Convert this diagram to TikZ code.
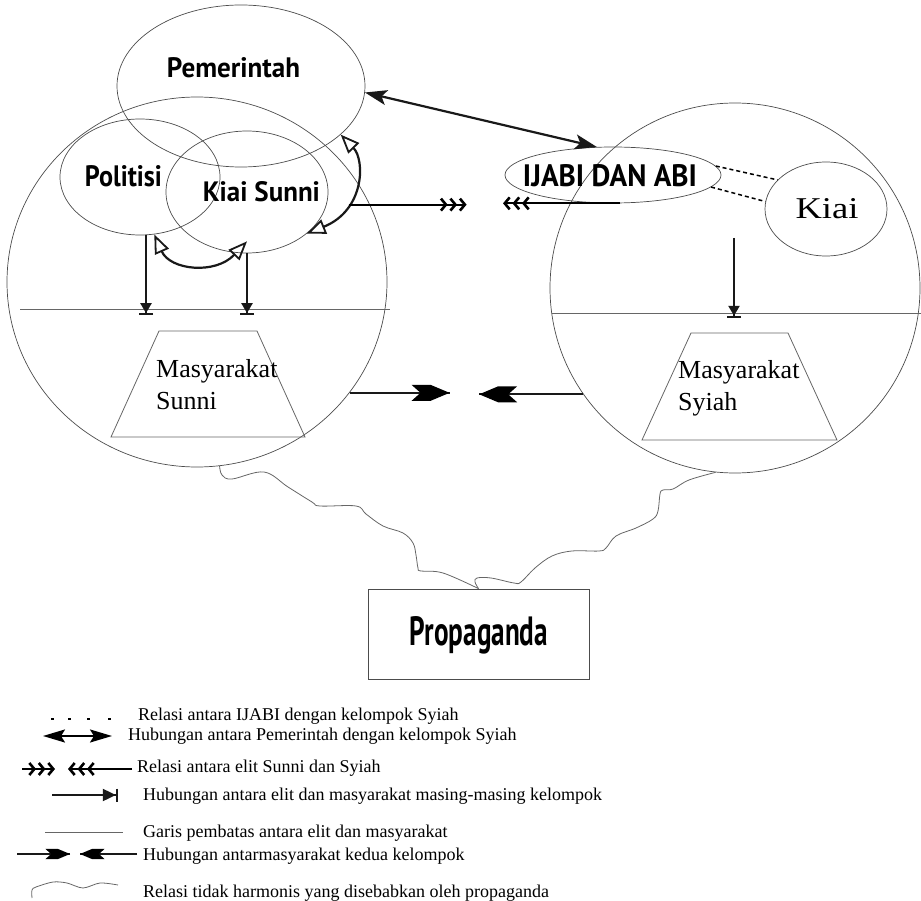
\documentclass[tikz,border=0pt]{standalone}
\usepackage{graphicx}
\usepackage{fontspec}
\setmainfont{Liberation Serif}
\setsansfont{PT Sans}
\usetikzlibrary{arrows.meta}
\usetikzlibrary{decorations.markings}
\usetikzlibrary{shapes.geometric}
\usetikzlibrary{positioning}
\newcommand{\judul}[3]{\resizebox{#1pt}{#2pt}{\sffamily\bfseries #3}}
\tikzset{wadah/.style = {ellipse, draw=black!70, line width=0.7pt, inner sep=0pt},
         garis/.style = {draw=black!60, line width=0.8pt},
         tebal/.style = {line width=2.2pt, draw=black!90},
         duaarah/.style = {tebal, {Stealth[length=22pt,width=15pt,inset=5pt]}-{Stealth[length=22pt,width=15pt,inset=5pt]}},
         kaitan/.style = {tebal, {Triangle[open,length=19pt,width=15pt,line width=1.8pt]}-{Triangle[open,length=19pt,width=15pt,line width=1.8pt]}},
         turun/.style = {tebal, -{Stealth[length=10pt,width=11pt,inset=0pt]Bar[width=14pt,line width=2.2pt]}},
         elit/.style = {line width=1.9pt, -{Straight Barb[length=5pt,width=12pt,line width=2.6pt,sep=1.5pt]Straight Barb[length=5pt,width=12pt,line width=2.6pt,sep=1.5pt]Straight Barb[length=5pt,width=12pt,line width=2.6pt]}},
         putus/.style = {line width=1.5pt, dash pattern=on 4pt off 3pt},
         fletch/.style = {tebal, decoration={markings,
                                             mark=at position 1 with {\fill[scale=#1] (0,0) -- (-19,8) -- (-38,8) -- (-29,0) -- (-38,-8) -- (-19,-8) -- cycle;}},
                          postaction={decorate}},
         fletch/.default = 1,
         ombak/.style = {draw=black!60, line width=0.8pt},
         ket/.style = {anchor=base west, inner sep=0pt, font=\fontsize{18}{20}\selectfont},
         massa/.style = {anchor=base west, inner sep=0pt, align=left, font=\fontsize{26}{32}\selectfont}}
\begin{document}
\begin{tikzpicture}[x=1pt, y=-1pt]
    \useasboundingbox (0,0) rectangle (921,901);

    \node [wadah, minimum width=380pt, minimum height=370pt] (sunni) at (197,282) {};
    \node [wadah, minimum width=370pt, minimum height=370pt] (syiah) at (735,288) {};
    \node [wadah, minimum width=248pt, minimum height=162pt] (pem) at (241,86) {};
    \node [wadah, minimum width=160pt, minimum height=116pt] (pol) at (140,177) {};
    \node [wadah, minimum width=162pt, minimum height=122pt] (ks) at (247,192) {};
    \node [wadah, minimum width=216pt, minimum height=56pt] (ijabi) at (613,175) {};
    \node [wadah, minimum width=122pt, minimum height=94pt] (kiai) at (826,209) {};
    \node [draw=black!70, line width=0.8pt, minimum width=221pt, minimum height=90pt, inner sep=0pt] (prop) at (478.5,634) {};

    \node [anchor=base] (tpem) at (233.5,78) {\judul{133}{20}{Pemerintah}};
    \node [anchor=base] (tpol) at (123.5,187) {\judul{77}{21}{Politisi}};
    \node [anchor=base] (tks) at (261.5,202) {\judul{117}{20}{Kiai Sunni}};
    \node [anchor=base] (tijabi) at (610,187) {\judul{174}{22}{IJABI DAN ABI}};
    \node [anchor=base] (tprop) at (479,645) {\judul{138}{29}{Propaganda}};
    \node [anchor=base] (tkiai) at (827,219) {\resizebox{63pt}{20pt}{Kiai}};

    \draw [garis] (20,309) -- (390,309);
    \draw [garis] (552,313) -- (921,313);
    \draw [garis] (159,331) -- (257,331) -- (305,437) -- (111,437) -- cycle;
    \draw [garis] (691,333) -- (788,333) -- (837,440) -- (642,440) -- cycle;
    \node [massa] (msunni) at (156,409) {Masyarakat\\Sunni};
    \node [massa] (msyiah) at (678,410) {Masyarakat\\Syiah};

    \draw [duaarah] (pem.-3) -- (ijabi.120);
    \draw [kaitan] (pol.-76) .. controls (170,270) and (215,275) .. ([yshift=12pt]ks.south);
    \draw [kaitan] (pem.-26) .. controls (365,160) and (365,210) .. (ks.-35);
    \draw [turun] ([xshift=6pt]pol.south) -- ++(0,80);
    \draw [turun] (ks.south) -- ++(0,62);
    \coordinate (elitS) at (734,238);
    \draw [turun] (elitS) -- ++(0,80);
    \draw [elit] ([xshift=22pt]ks.-9) -- ++(118,0);
    \draw [elit] ([xshift=7pt]ijabi.south) -- ++(-117,0);
    \draw [putus] (ijabi.5) -- (kiai.149);
    \draw [putus] (ijabi.-7) -- (kiai.173);
    \draw [fletch] (sunni.-36) -- ++(100,0);
    \draw [fletch] (syiah.-145) -- ++(-104,0);

    \draw [ombak] plot [smooth, tension=0.6] coordinates {(sunni.-83) (222,475) (232,479) (264,472) (288,487) (312,502) (320,506) (356,506) (366,514) (383,526) (403,533) (413,543) (416,555) (418,568) (421,571) (443,573) (prop.north)};
    \draw [ombak] plot [smooth, tension=0.6] coordinates {(syiah.-96) (689,480) (673,489) (663,490) (660,494) (658,511) (653,519) (636,528) (616,536) (606,548) (599,551) (572,551) (552,556) (535,568) (521,582) (514,583) (491,578) (477,578) (475,582) (prop.north)};

    \foreach \x in {51,68,87,108} {
      \fill (\x,717.5) rectangle ++(2.5,2.5);
    }
    \draw [line width=2.2pt, {Stealth[length=22pt,width=13pt,inset=4pt]}-{Stealth[length=22pt,width=13pt,inset=4pt]}] (43,736) -- (112,736);
    \draw [elit] (22,769) -- (55,769);
    \draw [elit] (132,769) -- (68,769);
    \draw [tebal, -{Stealth[length=13pt,width=12pt,inset=0pt]Bar[width=13pt,line width=2.2pt]}] (52,795) -- (118,795);
    \draw [garis] (45,832) -- (123,832);
    \draw [fletch=0.65] (17,854) -- (70,854);
    \draw [fletch=0.65] (137,854) -- (80,854);
    \draw [ombak] plot [smooth] coordinates {(32,898) (32,890) (36,887) (53,882) (67,883) (83,888) (100,883) (118,885)};

    \foreach \x/\y/\teks [count=\i] in {138/720/Relasi antara IJABI dengan kelompok Syiah,
                                        128/740/Hubungan antara Pemerintah dengan kelompok Syiah,
                                        137/772/Relasi antara elit Sunni dan Syiah,
                                        143/800/Hubungan antara elit dan masyarakat masing-masing kelompok,
                                        143/837/Garis pembatas antara elit dan masyarakat,
                                        143/860/Hubungan antarmasyarakat kedua kelompok,
                                        143/897/Relasi tidak harmonis yang disebabkan oleh propaganda} {
      \node [ket] (ket\i) at (\x,\y) {\teks};
    }
  \end{tikzpicture}
\end{document}
